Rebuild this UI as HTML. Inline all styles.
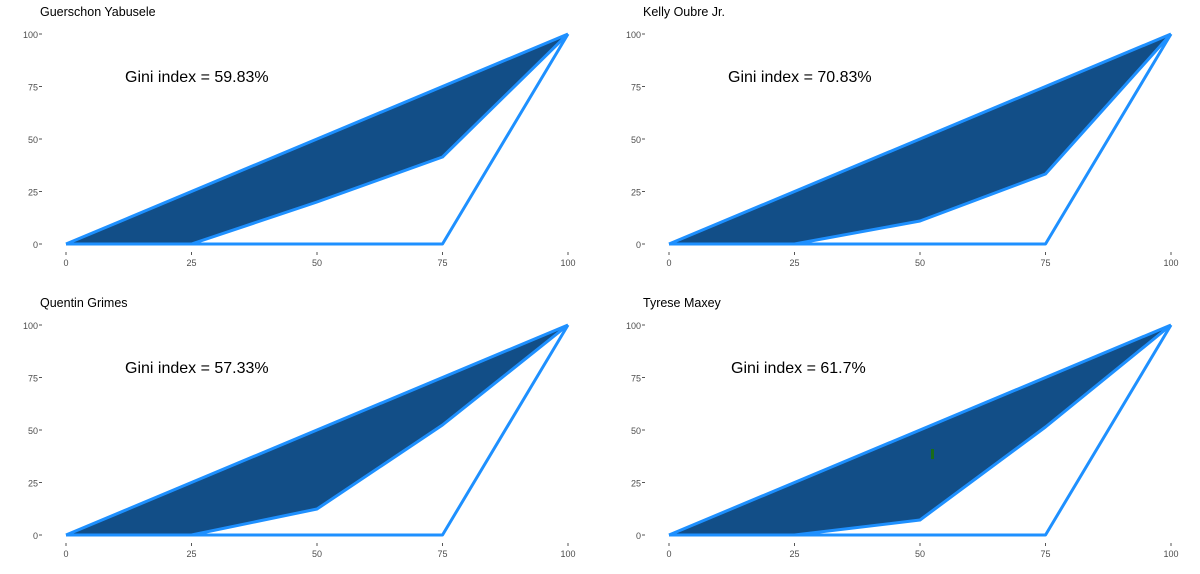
<!DOCTYPE html>
<html><head><meta charset="utf-8"><style>
html,body{margin:0;padding:0;background:#fff}
svg{display:block}
text{font-family:"Liberation Sans",Arial,sans-serif}
.t{font-size:12.5px;fill:#000}
.g{font-size:16px;fill:#000}
.k{font-size:9px;fill:#4d4d4d}
.tk{stroke:#555;stroke-width:1}
.ln{fill:none;stroke:#1e90ff;stroke-width:3;stroke-linejoin:round}
.fl{fill:#124e87}
</style></head><body>
<svg width="1200" height="574" viewBox="0 0 1200 574">
<defs>
<g id="axes">
  <text class="k" x="-28" y="-206" text-anchor="end">100</text>
  <text class="k" x="-28" y="-153.5" text-anchor="end">75</text>
  <text class="k" x="-28" y="-101" text-anchor="end">50</text>
  <text class="k" x="-28" y="-48.5" text-anchor="end">25</text>
  <text class="k" x="-28" y="4" text-anchor="end">0</text>
  <line class="tk" x1="-27" x2="-24" y1="-210" y2="-210"/>
  <line class="tk" x1="-27" x2="-24" y1="-157.5" y2="-157.5"/>
  <line class="tk" x1="-27" x2="-24" y1="-105" y2="-105"/>
  <line class="tk" x1="-27" x2="-24" y1="-52.5" y2="-52.5"/>
  <line class="tk" x1="-27" x2="-24" y1="0" y2="0"/>
  <line class="tk" x1="0" x2="0" y1="8" y2="11"/>
  <line class="tk" x1="125.5" x2="125.5" y1="8" y2="11"/>
  <line class="tk" x1="251" x2="251" y1="8" y2="11"/>
  <line class="tk" x1="376.5" x2="376.5" y1="8" y2="11"/>
  <line class="tk" x1="502" x2="502" y1="8" y2="11"/>
  <text class="k" x="0" y="22" text-anchor="middle">0</text>
  <text class="k" x="125.5" y="22" text-anchor="middle">25</text>
  <text class="k" x="251" y="22" text-anchor="middle">50</text>
  <text class="k" x="376.5" y="22" text-anchor="middle">75</text>
  <text class="k" x="502" y="22" text-anchor="middle">100</text>
</g>
</defs>

<!-- Panel 1 -->
<text class="t" x="40" y="16">Guerschon Yabusele</text>
<g transform="translate(66,244)">
  <use href="#axes"/>
  <polygon class="fl" points="0,0 502,-210 376.5,-87 251,-42 125.5,0"/>
  <polyline class="ln" points="0,0 502,-210"/>
  <polyline class="ln" points="0,0 125.5,0 251,-42 376.5,-87 502,-210"/>
  <polyline class="ln" points="0,0 376.5,0 502,-210"/>
</g>
<text class="g" x="125" y="82">Gini index = 59.83%</text>

<!-- Panel 2 -->
<text class="t" x="643" y="16">Kelly Oubre Jr.</text>
<g transform="translate(669,244)">
  <use href="#axes"/>
  <polygon class="fl" points="0,0 502,-210 376.5,-70 251,-23 125.5,0"/>
  <polyline class="ln" points="0,0 502,-210"/>
  <polyline class="ln" points="0,0 125.5,0 251,-23 376.5,-70 502,-210"/>
  <polyline class="ln" points="0,0 376.5,0 502,-210"/>
</g>
<text class="g" x="728" y="82">Gini index = 70.83%</text>

<!-- Panel 3 -->
<text class="t" x="40" y="307">Quentin Grimes</text>
<g transform="translate(66,535)">
  <use href="#axes"/>
  <polygon class="fl" points="0,0 502,-210 376.5,-110 251,-26 125.5,0"/>
  <polyline class="ln" points="0,0 502,-210"/>
  <polyline class="ln" points="0,0 125.5,0 251,-26 376.5,-110 502,-210"/>
  <polyline class="ln" points="0,0 376.5,0 502,-210"/>
</g>
<text class="g" x="125" y="373">Gini index = 57.33%</text>

<!-- Panel 4 -->
<text class="t" x="643" y="307">Tyrese Maxey</text>
<g transform="translate(669,535)">
  <use href="#axes"/>
  <polygon class="fl" points="0,0 502,-210 376.5,-108 251,-15 125.5,0"/>
  <polyline class="ln" points="0,0 502,-210"/>
  <polyline class="ln" points="0,0 125.5,0 251,-15 376.5,-108 502,-210"/>
  <polyline class="ln" points="0,0 376.5,0 502,-210"/>
  <rect x="262" y="-86" width="3" height="10" fill="#1a6b1a"/>
</g>
<text class="g" x="731" y="373">Gini index = 61.7%</text>
</svg>
</body></html>
